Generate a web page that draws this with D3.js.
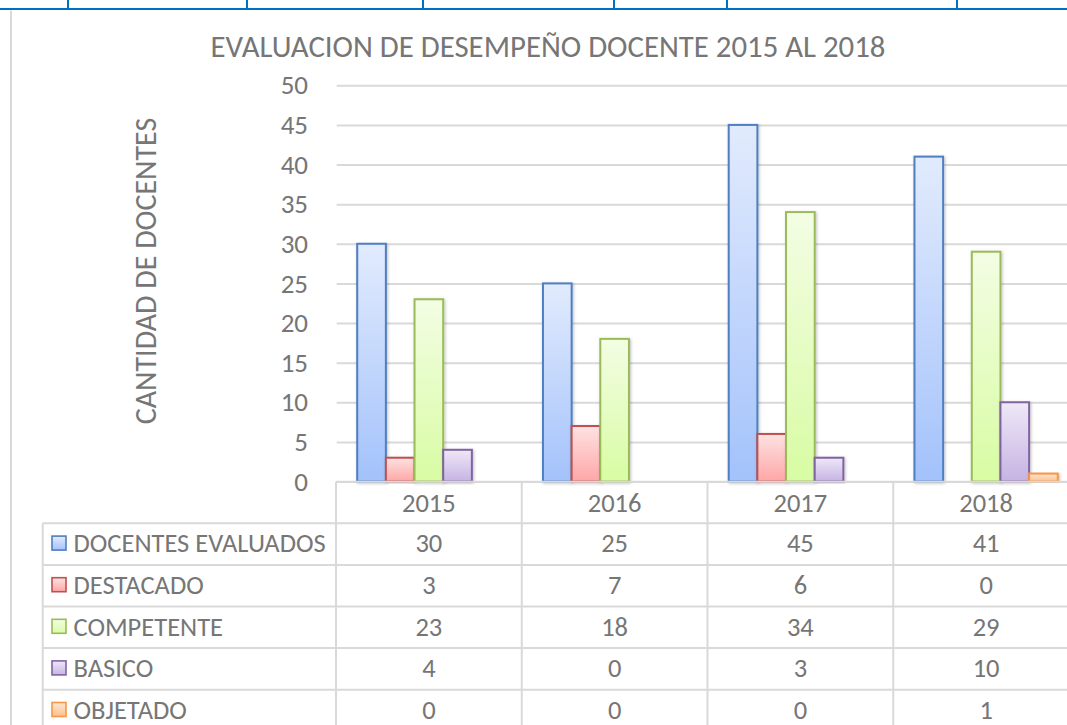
<!DOCTYPE html>
<html>
<head>
<meta charset="utf-8">
<script src="https://cdn.jsdelivr.net/npm/d3@7"></script>
<style>
  html, body { margin: 0; padding: 0; background: #fff; }
  svg { display: block; }
  text { font-family: Carlito, Lato, "Open Sans", sans-serif; font-weight: 300; fill: #767676; }
</style>
</head>
<body>
<svg id="chart" width="1067" height="725"></svg>
<script>
// ---- data ----
const years = ["2015", "2016", "2017", "2018"];
const seriesNames = ["DOCENTES EVALUADOS", "DESTACADO", "COMPETENTE", "BASICO", "OBJETADO"];
const docentesEvaluados = [30, 25, 45, 41];
const destacado = [3, 7, 6, 0];
const competente = [23, 18, 34, 29];
const basico = [4, 0, 3, 10];
const objetado = [0, 0, 0, 1];
const yTicks = [0, 5, 10, 15, 20, 25, 30, 35, 40, 45, 50];
const chartTitle = "EVALUACION DE DESEMPEÑO DOCENTE 2015 AL 2018";
const yAxisTitle = "CANTIDAD DE DOCENTES";

const seriesValues = [docentesEvaluados, destacado, competente, basico, objetado];

// colour per series: gradient top, gradient bottom, outline
const palette = [
  { top: "#e2ebfd", bottom: "#a3c2fb", line: "#4f7fc0" },
  { top: "#fde2e2", bottom: "#ffa6a6", line: "#c0504d" },
  { top: "#f3fde4", bottom: "#d8fca3", line: "#9bbb59" },
  { top: "#efe8f7", bottom: "#c6b3e3", line: "#8064a2" },
  { top: "#fde7d4", bottom: "#ffbf8c", line: "#f79646" }
];
const textColor = "#767676";

const svg = d3.select("#chart");
const defs = svg.append("defs");

palette.forEach((p, i) => {
  const g = defs.append("linearGradient")
    .attr("id", "grad" + i)
    .attr("x1", 0).attr("y1", 0).attr("x2", 0).attr("y2", 1);
  g.append("stop").attr("offset", "0%").attr("stop-color", p.top);
  g.append("stop").attr("offset", "100%").attr("stop-color", p.bottom);
});

const shadow = defs.append("filter").attr("id", "barShadow")
  .attr("x", "-30%").attr("y", "-10%").attr("width", "160%").attr("height", "120%");
shadow.append("feDropShadow")
  .attr("dx", 1).attr("dy", 1).attr("stdDeviation", 1.5)
  .attr("flood-color", "#000").attr("flood-opacity", 0.25);

// ---- page frame (blue rule with cell dividers above the chart) ----
const frameCols = [68, 247, 423, 614, 727, 957];
svg.append("g").selectAll("line").data(frameCols).join("line")
  .attr("x1", d => d).attr("x2", d => d).attr("y1", 0).attr("y2", 9)
  .attr("stroke", "#0070c0").attr("stroke-width", 2);
svg.append("line").attr("x1", 0).attr("x2", 1067).attr("y1", 9).attr("y2", 9)
  .attr("stroke", "#0070c0").attr("stroke-width", 2.2);
// chart area outline (left edge)
svg.append("line").attr("x1", 11).attr("x2", 11).attr("y1", 10.5).attr("y2", 725)
  .attr("stroke", "#d9d9d9").attr("stroke-width", 2);

// ---- scales ----
const plotLeft = 336, plotRight = 1079;
const x = d3.scaleBand().domain(years).range([plotLeft, plotRight]).padding(0);
const xs = d3.scaleBand().domain(seriesNames).range([0, x.bandwidth()])
  .paddingInner(0).paddingOuter(0.74);
const y = d3.scaleLinear().domain([0, 50]).range([481.5, 85.3]);

// ---- gridlines + tick labels ----
const yAxis = d3.axisLeft(y).tickValues(yTicks).tickSize(-(plotRight - plotLeft)).tickPadding(28);
const ga = svg.append("g").attr("transform", `translate(${plotLeft},0)`).call(yAxis);
ga.select(".domain").remove();
ga.selectAll(".tick line").attr("stroke", "#d9d9d9").attr("stroke-width", 2)
  .attr("x1", 0.7);
ga.selectAll(".tick text")
  .attr("font-size", 27).attr("fill", textColor)
  .style("font-family", "Carlito, Lato, 'Open Sans', sans-serif")
  .style("font-weight", 300);

// ---- bars ----
const barData = [];
seriesValues.forEach((vals, si) => {
  vals.forEach((v, ci) => barData.push({ series: seriesNames[si], si, year: years[ci], value: v }));
});
svg.append("g").selectAll("rect")
  .data(barData.filter(d => d.value > 0))
  .join("rect")
  .attr("x", d => x(d.year) + xs(d.series))
  .attr("y", d => y(d.value))
  .attr("width", xs.bandwidth())
  .attr("height", d => y(0) - y(d.value))
  .attr("fill", d => `url(#grad${d.si})`)
  .attr("stroke", d => palette[d.si].line)
  .attr("stroke-width", 2)
  .attr("filter", "url(#barShadow)");

// ---- titles ----
svg.append("text")
  .attr("x", 548).attr("y", 57)
  .attr("text-anchor", "middle")
  .attr("font-size", 30.8)
  .text(chartTitle);

svg.append("text")
  .attr("transform", "translate(156,271) rotate(-90)")
  .attr("text-anchor", "middle")
  .attr("font-size", 30)
  .text(yAxisTitle);

// ---- data table ----
const rowH = 41.6;
const tableTop = 481.7;
const legendLeft = 42.7;
const tableBottom = 740;
const gridColor = "#d9d9d9";
const tbl = svg.append("g");

// header row top border (category cells only)
tbl.append("line").attr("x1", plotLeft).attr("x2", plotRight)
  .attr("y1", tableTop).attr("y2", tableTop)
  .attr("stroke", gridColor).attr("stroke-width", 2);
// horizontal row borders
const rowLines = d3.range(1, seriesNames.length + 2).map(i => tableTop + i * rowH);
tbl.selectAll("line.row").data(rowLines).join("line").attr("class", "row")
  .attr("x1", legendLeft).attr("x2", plotRight)
  .attr("y1", d => d).attr("y2", d => d)
  .attr("stroke", gridColor).attr("stroke-width", 2);
// vertical borders
const colEdges = years.map(yr => x(yr)).concat([plotRight]);
tbl.selectAll("line.col").data(colEdges).join("line").attr("class", "col")
  .attr("x1", d => d).attr("x2", d => d)
  .attr("y1", tableTop).attr("y2", tableBottom)
  .attr("stroke", gridColor).attr("stroke-width", 2);
tbl.append("line").attr("x1", legendLeft).attr("x2", legendLeft)
  .attr("y1", tableTop + rowH).attr("y2", tableBottom)
  .attr("stroke", gridColor).attr("stroke-width", 2);

// header labels
tbl.selectAll("text.year").data(years).join("text").attr("class", "year")
  .attr("x", d => x(d) + x.bandwidth() / 2)
  .attr("y", tableTop + rowH / 2)
  .attr("dy", "0.35em")
  .attr("text-anchor", "middle")
  .attr("font-size", 26.5)
  .text(d => d);

// rows: legend key, series name, values
seriesNames.forEach((name, si) => {
  const cy = tableTop + (si + 1) * rowH + rowH / 2 - 1;
  tbl.append("rect")
    .attr("x", 52).attr("y", cy - 7).attr("width", 14).attr("height", 14)
    .attr("fill", `url(#grad${si})`)
    .attr("stroke", palette[si].line).attr("stroke-width", 1.6);
  tbl.append("text")
    .attr("x", 73.5).attr("y", cy).attr("dy", "0.35em")
    .attr("font-size", 26.5)
    .text(name);
  tbl.selectAll(null).data(seriesValues[si]).join("text")
    .attr("x", (d, ci) => x(years[ci]) + x.bandwidth() / 2)
    .attr("y", cy).attr("dy", "0.35em")
    .attr("text-anchor", "middle")
    .attr("font-size", 26.5)
    .text(d => d);
});
</script>
</body>
</html>
